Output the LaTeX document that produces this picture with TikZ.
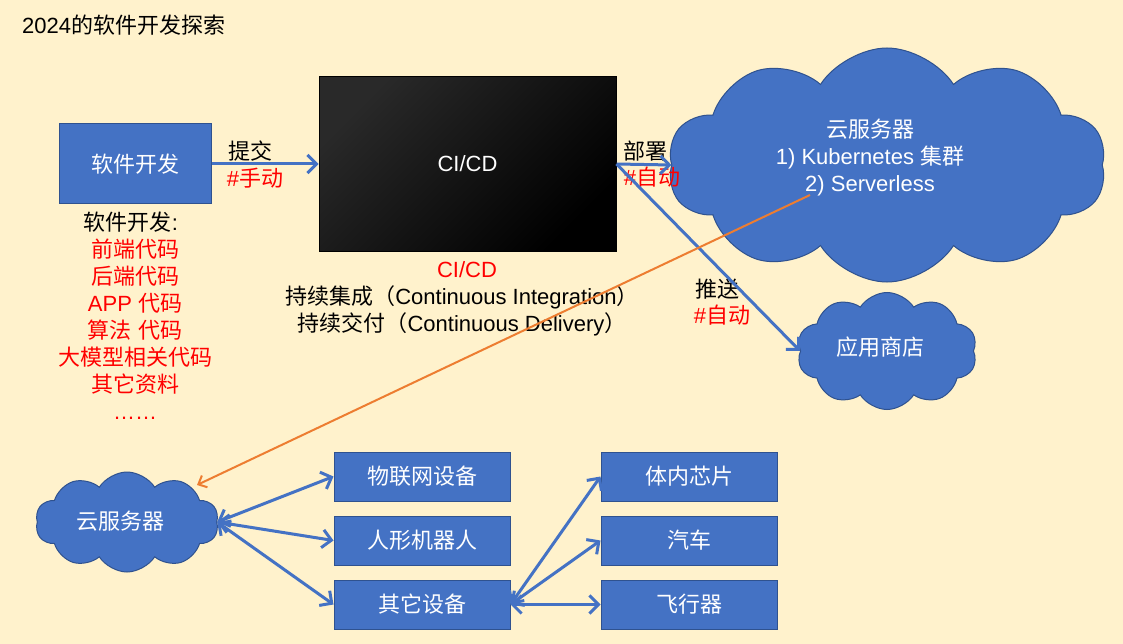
\documentclass[tikz,border=0pt]{standalone}
\usepackage{fontspec}
\setmainfont{Liberation Sans}
\newfontfamily\cjk{Noto Sans CJK SC}
\usetikzlibrary{shapes.symbols,arrows.meta}
\XeTeXinterchartokenstate=1
\newXeTeXintercharclass\cjkclass
\count255="4E00
\loop\ifnum\count255<"A000 \XeTeXcharclass\count255=\cjkclass \advance\count255 by 1 \repeat
\count255="FF00
\loop\ifnum\count255<"FFF0 \XeTeXcharclass\count255=\cjkclass \advance\count255 by 1 \repeat
\count255="3000
\loop\ifnum\count255<"3040 \XeTeXcharclass\count255=\cjkclass \advance\count255 by 1 \repeat
\XeTeXinterchartoks 0 \cjkclass = {\begingroup\cjk}
\XeTeXinterchartoks 4095 \cjkclass = {\begingroup\cjk}
\XeTeXinterchartoks \cjkclass 0 = {\endgroup}
\XeTeXinterchartoks \cjkclass 4095 = {\endgroup}
\definecolor{bgyellow}{HTML}{FFF2CC}
\definecolor{boxblue}{HTML}{4472C4}
\definecolor{boxedge}{HTML}{2F528F}
\definecolor{orangeline}{HTML}{ED7D31}
\definecolor{redtext}{HTML}{FF0000}
\begin{document}
\begin{tikzpicture}[x=1pt,y=-1pt,
  every node/.style={font=\fontsize{22}{27}\selectfont},
  bluebox/.style={draw=boxedge, fill=boxblue, text=white, line width=1pt, inner sep=0pt},
  bluecloud/.style={cloud, cloud puffs=10, cloud puff arc=115, cloud ignores aspect, draw=boxedge, fill=boxblue, line width=1pt, inner sep=0pt},
  cloudtext/.style={text=white, align=center},
  plaintext/.style={text=black, align=center, inner sep=0pt},
  redlabel/.style={text=redtext, align=center, inner sep=0pt},
  conn/.style={draw=boxblue, line width=3pt, -{Straight Barb[length=9pt,width=18pt,line width=3pt]}},
  bconn/.style={draw=boxblue, line width=3pt, {Straight Barb[length=9pt,width=18pt,line width=3pt]}-{Straight Barb[length=9pt,width=18pt,line width=3pt]}},
  oconn/.style={draw=orangeline, line width=2pt, -{Straight Barb[length=7pt,width=13pt,line width=2pt]}}
]
\useasboundingbox (0,0) rectangle (1123,644);
\fill[bgyellow] (0,0) rectangle (1123,644);

% title
\node[plaintext, anchor=west] (title) at (22,25) {2024的软件开发探索};

% top row
\node[bluebox, minimum width=152pt, minimum height=80pt] (dev) at (135,164) {软件开发};
\node[draw=black, line width=1pt, top color=black!84, bottom color=black, shading angle=45, text=white, minimum width=297pt, minimum height=174pt, inner sep=0pt] (ci) at (467.5,164) {CI/CD};

\node[plaintext] (devlist) at (135,316) {软件开发:\hspace*{8pt}\\
\textcolor{redtext}{前端代码}\\
\textcolor{redtext}{后端代码}\\
\textcolor{redtext}{APP 代码}\\
\textcolor{redtext}{算法 代码}\\
\textcolor{redtext}{大模型相关代码}\\
\textcolor{redtext}{其它资料}\\
\textcolor{redtext}{……}};

\node[redlabel] (cicdred) at (467,270) {CI/CD};
\node[plaintext] (ciline) at (462,297) {持续集成（Continuous Integration）};
\node[plaintext] (cdline) at (462,324) {持续交付（Continuous Delivery）};

% clouds
\node[bluecloud, minimum width=438pt, minimum height=234pt] (bigcloud) at (887,165) {};
\node[cloudtext] (bigtext) at (870,158) {云服务器\\1) Kubernetes 集群\\2) Serverless};
\node[bluecloud, minimum width=180pt, minimum height=117pt] (store) at (887,351) {};
\node[cloudtext] (storetext) at (880,347) {应用商店};
\node[bluecloud, minimum width=183pt, minimum height=100pt] (small) at (127,522) {};
\node[cloudtext] (smalltext) at (120,521) {云服务器};

% device boxes
\node[bluebox, minimum width=176pt, minimum height=49pt] (iot) at (422,476.5) {物联网设备};
\node[bluebox, minimum width=176pt, minimum height=49pt] (robot) at (422,540.5) {人形机器人};
\node[bluebox, minimum width=176pt, minimum height=49pt] (other) at (422,604.5) {其它设备};
\node[bluebox, minimum width=176pt, minimum height=49pt] (chip) at (689,476.5) {体内芯片};
\node[bluebox, minimum width=176pt, minimum height=49pt] (car) at (689,540.5) {汽车};
\node[bluebox, minimum width=176pt, minimum height=49pt] (plane) at (689,604.5) {飞行器};

% labels
\node[plaintext] (lsubmit) at (250,151) {提交};
\node[redlabel] (lmanual) at (255,178) {\#手动};
\node[plaintext] (ldeploy) at (645,151) {部署};
\node[redlabel] (lauto1) at (652,177) {\#自动};
\node[plaintext] (lpush) at (717,289) {推送};
\node[redlabel] (lauto2) at (722,315) {\#自动};

% connectors
\draw[conn] (dev.east) -- (ci.west);
\draw[conn] (ci.east) -- (bigcloud.west);
\draw[conn] (ci.east) -- (store.west);
\coordinate (ostart) at (810,195);
\coordinate (oend) at (197,485);
\draw[oconn] (ostart) -- (oend);

\draw[bconn] (small.east) -- (iot.west);
\draw[bconn] (small.east) -- (robot.west);
\draw[bconn] (small.east) -- (other.west);
\draw[bconn] (other.east) -- (chip.west);
\draw[bconn] (other.east) -- (car.west);
\draw[bconn] (other.east) -- (plane.west);
\end{tikzpicture}
\end{document}
